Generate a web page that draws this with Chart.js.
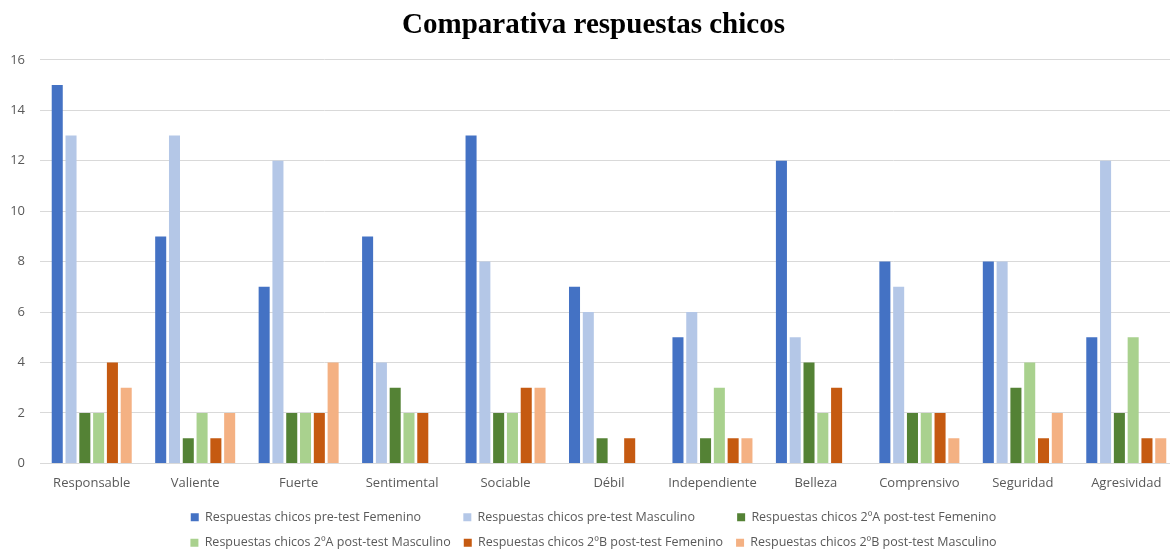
<!DOCTYPE html>
<html>
<head>
<meta charset="utf-8">
<script src="https://cdn.jsdelivr.net/npm/chart.js@4"></script>
<style>
  html, body { margin: 0; padding: 0; background: #fff; }
  #wrap { width: 1170px; height: 549px; overflow: hidden; }
</style>
</head>
<body>
<div id="wrap"><canvas id="c" width="1178" height="549"></canvas></div>
<script>
const categories = ['Responsable', 'Valiente', 'Fuerte', 'Sentimental', 'Sociable', 'Débil',
  'Independiente', 'Belleza', 'Comprensivo', 'Seguridad', 'Agresividad'];

const preFemenino    = [15, 9, 7, 9, 13, 7, 5, 12, 8, 8, 5];
const preMasculino   = [13, 13, 12, 4, 8, 6, 6, 5, 7, 8, 12];
const postAFemenino  = [2, 1, 2, 3, 2, 1, 1, 4, 2, 3, 2];
const postAMasculino = [2, 2, 2, 2, 2, 0, 3, 2, 2, 4, 5];
const postBFemenino  = [4, 1, 2, 2, 3, 1, 1, 3, 2, 1, 1];
const postBMasculino = [3, 2, 4, 0, 3, 0, 1, 0, 1, 2, 1];

const seriesNames = [
  'Respuestas chicos pre-test Femenino',
  'Respuestas chicos pre-test Masculino',
  'Respuestas chicos 2ºA post-test Femenino',
  'Respuestas chicos 2ºA post-test Masculino',
  'Respuestas chicos 2ºB post-test Femenino',
  'Respuestas chicos 2ºB post-test Masculino'
];
const seriesValues = [preFemenino, preMasculino, postAFemenino, postAMasculino, postBFemenino, postBMasculino];
const seriesColors = ['#4472C4', '#B4C7E7', '#548235', '#A9D18E', '#C55A11', '#F4B183'];

const labelFamily = "'Open Sans', 'Liberation Sans', sans-serif";
const legendSize = 12.5;
const LEGEND_ROW_WIDTH = 960;   // legend wraps into rows of three entries

// keeps the legend rows narrow so the six entries sit three per row
const legendRows = {
  id: 'legendRows',
  afterInit(chart) {
    const lg = chart.legend;
    if (!lg) return;
    const fitRows = lg._fitRows.bind(lg);
    lg._fitRows = function (...args) {
      const full = this.maxWidth;
      this.maxWidth = Math.min(full, LEGEND_ROW_WIDTH);
      const h = fitRows(...args);
      this.maxWidth = full;
      return h;
    };
  }
};

new Chart(document.getElementById('c'), {
  type: 'bar',
  data: {
    labels: categories,
    datasets: seriesValues.map((vals, i) => ({
      label: seriesNames[i],
      data: vals,
      backgroundColor: seriesColors[i],
      borderWidth: 0,
      barPercentage: 0.8,
      categoryPercentage: 0.8
    }))
  },
  plugins: [legendRows],
  options: {
    responsive: false,
    animation: false,
    layout: { padding: { left: 9, right: 0, top: 6, bottom: -10 } },
    plugins: {
      title: {
        display: true,
        text: 'Comparativa respuestas chicos',
        color: '#000',
        font: { family: "'Liberation Serif', 'Times New Roman', serif", size: 29, weight: 'bold' },
        padding: { top: 2, bottom: 17 }
      },
      legend: {
        position: 'bottom',
        labels: {
          boxWidth: 8,
          boxHeight: 8,
          padding: 13,
          color: '#595959',
          font: { family: labelFamily, size: legendSize },
          // entries padded to a common width so the two rows line up in columns
          generateLabels(chart) {
            const items = Chart.defaults.plugins.legend.labels.generateLabels(chart);
            const ctx = chart.ctx;
            ctx.save();
            ctx.font = legendSize + 'px ' + labelFamily;
            const colWidth = Math.max(...items.map(it => ctx.measureText(it.text).width));
            items.forEach((it, i) => {
              if (i % 3 === 2) return;
              let t = it.text;
              let n = 0;
              while (ctx.measureText(t + ' ').width <= colWidth + 1 && n < 60) { t += ' '; n++; }
              it.text = t;
            });
            ctx.restore();
            return items;
          }
        }
      },
      tooltip: { enabled: false }
    },
    scales: {
      x: {
        grid: { display: false },
        border: { display: true, color: '#D9D9D9', width: 1 },
        ticks: { color: '#595959', font: { family: labelFamily, size: 13 }, maxRotation: 0, padding: 4 },
        afterFit(scale) { scale.height += 3; }
      },
      y: {
        min: 0,
        max: 16,
        ticks: { stepSize: 2, color: '#595959', font: { family: labelFamily, size: 13 }, padding: 15 },
        grid: { color: '#D9D9D9', drawTicks: false },
        border: { display: false },
        afterFit(scale) { scale.width = 31; }
      }
    }
  }
});
</script>
</body>
</html>
